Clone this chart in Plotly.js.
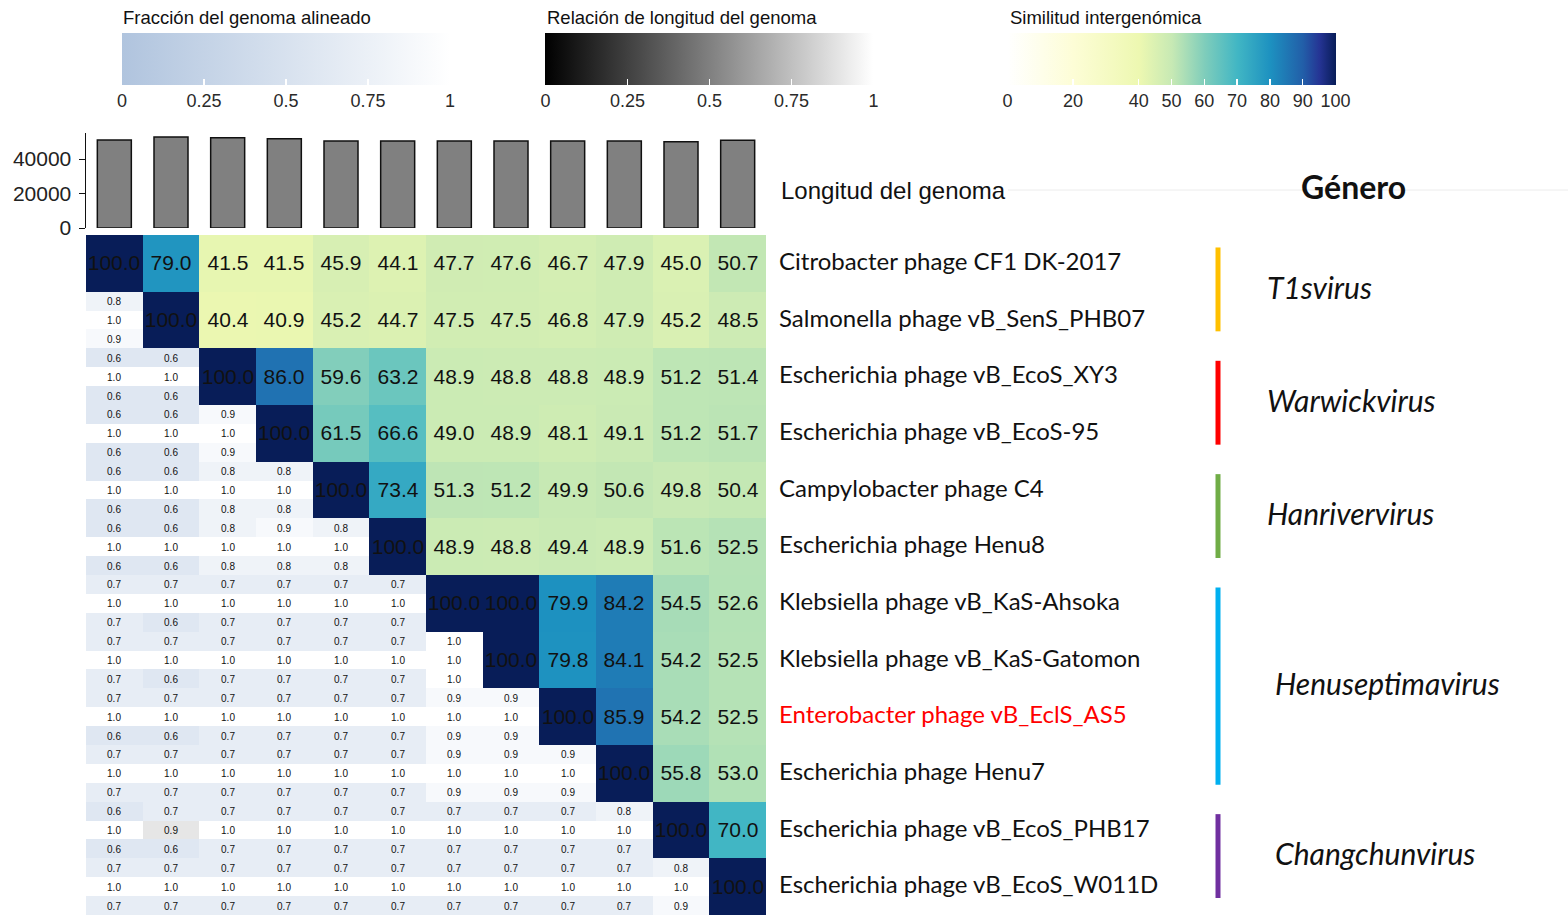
<!DOCTYPE html>
<html>
<head>
<meta charset="utf-8">
<script src="https://cdn.plot.ly/plotly-3.0.1.min.js"></script>
<style>html,body{margin:0;padding:0;background:#fff;}#chart{width:1568px;height:915px;}</style>
</head>
<body>
<div id="chart"></div>
<script>
// ---------------- DATA ----------------
const phageNames = [
  "Citrobacter phage CF1 DK-2017",
  "Salmonella phage vB_SenS_PHB07",
  "Escherichia phage vB_EcoS_XY3",
  "Escherichia phage vB_EcoS-95",
  "Campylobacter phage C4",
  "Escherichia phage Henu8",
  "Klebsiella phage vB_KaS-Ahsoka",
  "Klebsiella phage vB_KaS-Gatomon",
  "Enterobacter phage vB_EclS_AS5",
  "Escherichia phage Henu7",
  "Escherichia phage vB_EcoS_PHB17",
  "Escherichia phage vB_EcoS_W011D"
];
const highlightName = "Enterobacter phage vB_EclS_AS5";

// genome length (bp)
const genomeLength = [51000, 52800, 52400, 51800, 50500, 50500, 50500, 50500, 50500, 50400, 50000, 50900];

// intergenomic similarity, upper triangle incl. diagonal (row i, columns i..11)
const simRow0  = [100.0, 79.0, 41.5, 41.5, 45.9, 44.1, 47.7, 47.6, 46.7, 47.9, 45.0, 50.7];
const simRow1  = [100.0, 40.4, 40.9, 45.2, 44.7, 47.5, 47.5, 46.8, 47.9, 45.2, 48.5];
const simRow2  = [100.0, 86.0, 59.6, 63.2, 48.9, 48.8, 48.8, 48.9, 51.2, 51.4];
const simRow3  = [100.0, 61.5, 66.6, 49.0, 48.9, 48.1, 49.1, 51.2, 51.7];
const simRow4  = [100.0, 73.4, 51.3, 51.2, 49.9, 50.6, 49.8, 50.4];
const simRow5  = [100.0, 48.9, 48.8, 49.4, 48.9, 51.6, 52.5];
const simRow6  = [100.0, 100.0, 79.9, 84.2, 54.5, 52.6];
const simRow7  = [100.0, 79.8, 84.1, 54.2, 52.5];
const simRow8  = [100.0, 85.9, 54.2, 52.5];
const simRow9  = [100.0, 55.8, 53.0];
const simRow10 = [100.0, 70.0];
const simRow11 = [100.0];
const similarityRows = [simRow0, simRow1, simRow2, simRow3, simRow4, simRow5, simRow6, simRow7, simRow8, simRow9, simRow10, simRow11];

// lower triangle (row i, columns 0..i-1): aligned fraction (top), length ratio (middle), aligned fraction (bottom)
const fracTopRows = [
  [],
  [0.8],
  [0.6, 0.6],
  [0.6, 0.6, 0.9],
  [0.6, 0.6, 0.8, 0.8],
  [0.6, 0.6, 0.8, 0.9, 0.8],
  [0.7, 0.7, 0.7, 0.7, 0.7, 0.7],
  [0.7, 0.7, 0.7, 0.7, 0.7, 0.7, 1.0],
  [0.7, 0.7, 0.7, 0.7, 0.7, 0.7, 0.9, 0.9],
  [0.7, 0.7, 0.7, 0.7, 0.7, 0.7, 0.9, 0.9, 0.9],
  [0.6, 0.7, 0.7, 0.7, 0.7, 0.7, 0.7, 0.7, 0.7, 0.8],
  [0.7, 0.7, 0.7, 0.7, 0.7, 0.7, 0.7, 0.7, 0.7, 0.7, 0.8]
];
const lengthRatioRows = [
  [],
  [1.0],
  [1.0, 1.0],
  [1.0, 1.0, 1.0],
  [1.0, 1.0, 1.0, 1.0],
  [1.0, 1.0, 1.0, 1.0, 1.0],
  [1.0, 1.0, 1.0, 1.0, 1.0, 1.0],
  [1.0, 1.0, 1.0, 1.0, 1.0, 1.0, 1.0],
  [1.0, 1.0, 1.0, 1.0, 1.0, 1.0, 1.0, 1.0],
  [1.0, 1.0, 1.0, 1.0, 1.0, 1.0, 1.0, 1.0, 1.0],
  [1.0, 0.9, 1.0, 1.0, 1.0, 1.0, 1.0, 1.0, 1.0, 1.0],
  [1.0, 1.0, 1.0, 1.0, 1.0, 1.0, 1.0, 1.0, 1.0, 1.0, 1.0]
];
const fracBottomRows = [
  [],
  [0.9],
  [0.6, 0.6],
  [0.6, 0.6, 0.9],
  [0.6, 0.6, 0.8, 0.8],
  [0.6, 0.6, 0.8, 0.8, 0.8],
  [0.7, 0.6, 0.7, 0.7, 0.7, 0.7],
  [0.7, 0.6, 0.7, 0.7, 0.7, 0.7, 1.0],
  [0.6, 0.6, 0.7, 0.7, 0.7, 0.7, 0.9, 0.9],
  [0.7, 0.7, 0.7, 0.7, 0.7, 0.7, 0.9, 0.9, 0.9],
  [0.6, 0.6, 0.7, 0.7, 0.7, 0.7, 0.7, 0.7, 0.7, 0.7],
  [0.7, 0.7, 0.7, 0.7, 0.7, 0.7, 0.7, 0.7, 0.7, 0.7, 0.9]
];

// genera: name, first row, last row, colour
const genusNames  = ["T1svirus", "Warwickvirus", "Hanrivervirus", "Henuseptimavirus", "Changchunvirus"];
const genusStart  = [0, 2, 4, 6, 10];
const genusEnd    = [1, 3, 5, 9, 11];
const genusColors = ["#ffc000", "#ff0000", "#70ad47", "#00b0f0", "#7030a0"];

const simTicks  = [0, 20, 40, 50, 60, 70, 80, 90, 100];
const fracTicks = [0, 0.25, 0.5, 0.75, 1];
const fracTickText = ["0", "0.25", "0.5", "0.75", "1"];
const legendTitles = ["Fracción del genoma alineado", "Relación de longitud del genoma", "Similitud intergenómica"];

// ---------------- BUILD ----------------
const W = 1568, H = 915;
const px = x => x / W;
const py = y => 1 - y / H;
const n = phageNames.length;
const cols = [...Array(n).keys()];

const simZ = [], simText = [];
for (let i = 0; i < n; i++) {
  const rz = [], rt = [];
  for (let j = 0; j < n; j++) {
    if (j >= i) { const v = similarityRows[i][j - i]; rz.push(v); rt.push(v.toFixed(1)); }
    else { rz.push(null); rt.push(""); }
  }
  simZ.push(rz); simText.push(rt);
}

const subY = [], fracZ = [], fracText = [], ratioZ = [], ratioText = [];
for (let i = 0; i < n; i++) {
  for (let k = 0; k < 3; k++) {
    subY.push(i - 1/3 + k/3);
    const fz = [], ft = [], rz = [], rt = [];
    for (let j = 0; j < n; j++) {
      if (j < i) {
        if (k === 1) {
          const v = lengthRatioRows[i][j];
          rz.push(v); rt.push(v.toFixed(1)); fz.push(null); ft.push("");
        } else {
          const v = (k === 0 ? fracTopRows : fracBottomRows)[i][j];
          fz.push(v); ft.push(v.toFixed(1)); rz.push(null); rt.push("");
        }
      } else { fz.push(null); ft.push(""); rz.push(null); rt.push(""); }
    }
    fracZ.push(fz); fracText.push(ft); ratioZ.push(rz); ratioText.push(rt);
  }
}

const ylgnbu = [
  [0.0, "#ffffff"], [0.2, "#fdfdd6"], [0.4, "#edf8b1"], [0.5, "#c7e9b4"],
  [0.6, "#7fcdbb"], [0.7, "#41b6c4"], [0.8, "#1d91c0"], [0.9, "#225ea8"], [0.95, "#253494"], [1.0, "#081d58"]
];

const cbCommon = {
  orientation: "h", xref: "container", yref: "container",
  lenmode: "pixels", len: 348, thickness: 52,
  xanchor: "center", yanchor: "top", y: py(23),
  outlinewidth: 0, ticks: "inside", tickcolor: "#ffffff", ticklen: 6, tickwidth: 1.5,
  tickfont: { family: "Liberation Sans, Arial", size: 18, color: "#2a2a2a" }
};

const traces = [
  {
    type: "bar", x: cols, y: genomeLength, xaxis: "x2", yaxis: "y2",
    width: 0.6, marker: { color: "#808080", line: { color: "#111", width: 1.5 } },
    hoverinfo: "skip", showlegend: false
  },
  {
    type: "heatmap", x: cols, y: cols, z: simZ, text: simText, texttemplate: "%{text}",
    textfont: { family: "Liberation Sans, Arial", size: 21, color: "#111" },
    colorscale: ylgnbu, zmin: 0, zmax: 100, hoverinfo: "skip",
    colorbar: Object.assign({}, cbCommon, { x: px(1171.5), tickvals: simTicks, ticktext: simTicks.map(String) })
  },
  {
    type: "heatmap", x: cols, y: subY, z: fracZ, text: fracText, texttemplate: "%{text}",
    textfont: { family: "Liberation Sans, Arial", size: 10, color: "#111" },
    colorscale: [[0, "#b0c4de"], [1, "#ffffff"]], zmin: 0, zmax: 1, hoverinfo: "skip",
    colorbar: Object.assign({}, cbCommon, { x: px(286), tickvals: fracTicks, ticktext: fracTickText })
  },
  {
    type: "heatmap", x: cols, y: subY, z: ratioZ, text: ratioText, texttemplate: "%{text}",
    textfont: { family: "Liberation Sans, Arial", size: 10, color: "#111" },
    colorscale: [[0, "#000000"], [1, "#ffffff"]], zmin: 0, zmax: 1, hoverinfo: "skip",
    colorbar: Object.assign({}, cbCommon, { x: px(709.5), tickvals: fracTicks, ticktext: fracTickText })
  }
];

const annotations = [];
const titleX = [121, 545, 1008];
legendTitles.forEach((t, k) => {
  annotations.push({
    xref: "paper", yref: "paper", x: px(titleX[k]), y: py(18), xanchor: "left", yanchor: "middle",
    text: t, showarrow: false, font: { family: "Liberation Sans, Arial", size: 18.5, color: "#111" }
  });
});
phageNames.forEach((name, i) => {
  annotations.push({
    xref: "paper", yref: "y", x: px(777), y: i, xanchor: "left", yanchor: "middle", yshift: 3,
    text: name, showarrow: false,
    font: { family: "Lato, Noto Sans", size: 24, color: name === highlightName ? "#ff0000" : "#111" }
  });
});
genusNames.forEach((g, k) => {
  annotations.push({
    xref: "paper", yref: "y", x: px(k >= 3 ? 1273 : 1265), y: (genusStart[k] + genusEnd[k]) / 2,
    xanchor: "left", yanchor: "middle", yshift: 5, text: g, showarrow: false,
    font: { family: "Lato, Noto Sans", size: 30, style: "italic", color: "#111" }
  });
});
annotations.push({
  xref: "paper", yref: "paper", x: px(779), y: py(190), xanchor: "left", yanchor: "middle",
  text: "Longitud del genoma", showarrow: false,
  font: { family: "Liberation Sans, Arial", size: 24, color: "#111" }
});
annotations.push({
  xref: "paper", yref: "paper", x: px(1353), y: py(186), xanchor: "center", yanchor: "middle",
  text: "<b>Género</b>", showarrow: false,
  font: { family: "Lato, Noto Sans", size: 32, color: "#111" }
});

const shapes = [
  { type: "line", xref: "paper", yref: "paper", x0: px(1008), x1: 1, y0: py(190), y1: py(190),
    line: { color: "#ececec", width: 1 } }
];
genusNames.forEach((g, k) => {
  shapes.push({
    type: "line", xref: "paper", yref: "y", x0: px(1218), x1: px(1218),
    y0: genusStart[k] - 0.28, y1: genusEnd[k] + 0.2,
    line: { color: genusColors[k], width: 5 }
  });
});

const layout = {
  width: W, height: H, autosize: false,
  margin: { l: 0, r: 0, t: 0, b: 0, pad: 0, autoexpand: false },
  paper_bgcolor: "#ffffff", plot_bgcolor: "#ffffff",
  font: { family: "Liberation Sans, Arial", color: "#111" },
  showlegend: false,
  xaxis: { domain: [px(86), px(766)], range: [-0.5, 11.5], visible: false, fixedrange: true },
  yaxis: { domain: [0, py(235)], range: [11.5, -0.5], visible: false, fixedrange: true },
  xaxis2: { domain: [px(86), px(766)], range: [-0.5, 11.5], anchor: "y2", visible: false },
  yaxis2: {
    domain: [py(228), py(133)], range: [0, 55100], anchor: "x2",
    showline: true, linecolor: "#111", linewidth: 1.5, ticks: "outside", ticklen: 6, tickcolor: "#111",
    tickvals: [0, 20000, 40000], ticktext: ["0", "20000", "40000"], ticklabelstandoff: 3,
    showgrid: false, zeroline: false,
    tickfont: { family: "Liberation Sans, Arial", size: 21, color: "#222" }
  },
  annotations: annotations, shapes: shapes
};

Plotly.newPlot("chart", traces, layout, { displayModeBar: false, staticPlot: true });
</script>
</body>
</html>
